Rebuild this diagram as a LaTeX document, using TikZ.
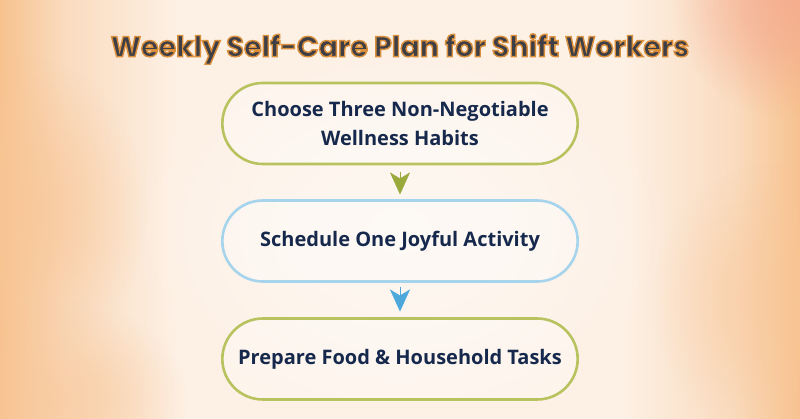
\documentclass[tikz,border=0pt]{standalone}
\usepackage{fontspec}
\setmainfont{Open Sans}
\newfontfamily\titlefont{Poppins}
\usetikzlibrary{arrows.meta,shapes.misc,calc,fadings}
\definecolor{navy}{HTML}{16294C}
\definecolor{titlegray}{HTML}{3E3E47}
\definecolor{olivebd}{HTML}{B8C25E}
\definecolor{bluebd}{HTML}{A6D4EC}
\definecolor{olivetip}{HTML}{9AA93C}
\definecolor{bluetip}{HTML}{4DA9DC}
\definecolor{bgmid}{HTML}{FDF0E4}
\definecolor{bgside2}{HTML}{FADBBE}
\definecolor{bgside}{HTML}{F7C28E}
\definecolor{salmon}{HTML}{F4A98E}
\definecolor{peach}{HTML}{F8C697}
\pgfdeclarehorizontalshading{bgh}{100bp}{color(0bp)=(bgside); color(25bp)=(bgside); color(29bp)=(bgside2); color(36bp)=(bgmid); color(64bp)=(bgmid); color(71bp)=(bgside2); color(75bp)=(bgside); color(100bp)=(bgside)}
\pgfdeclareradialshading{softr}{\pgfpointorigin}{color(0bp)=(pgftransparent!0); color(8bp)=(pgftransparent!25); color(20bp)=(pgftransparent!100); color(50bp)=(pgftransparent!100)}
\pgfdeclarefading{softdisc}{\tikz\shade[shading=softr] (0,0) rectangle (2,2);}
\tikzset{
  pill/.style={rounded rectangle, minimum width=362pt, minimum height=81pt,
    line width=2.6pt, fill=white, fill opacity=0.3, text opacity=1,
    text=navy, align=center, outer sep=0pt,
    font=\bfseries\fontsize{20}{29}\selectfont},
  titlestyle/.style={font=\titlefont\bfseries\fontsize{28.6}{28.6}\selectfont, inner sep=0pt},
  flowtip/.style={line width=0.4pt, -{Stealth[length=22pt, width=20pt, inset=6pt]}},
  glow/.style={path fading=softdisc}
}
\newcommand{\mytitle}{Weekly Self-Care Plan for Shift Workers}
\begin{document}
\begin{tikzpicture}[x=1pt,y=-1pt]
\useasboundingbox (0,0) rectangle (800,419);
% background
\shade[shading=bgh] (0,0) rectangle (800,419);
\fill[salmon, glow, opacity=0.8] (660,-130) rectangle (920,130);
\fill[peach, glow, opacity=0.7] (-120,40) rectangle (160,380);
\fill[peach, glow, opacity=0.6] (-80,290) rectangle (200,510);
\fill[peach, glow, opacity=0.5] (640,150) rectangle (900,450);
\fill[white, glow, opacity=0.5] (100,0) rectangle (700,460);
% title with orange outline (stroked text)
\node[titlestyle, text=titlegray] (title) at (400,49)
  {\special{pdf:literal direct 2 Tr 1.4 w 0.85 0.56 0.23 RG}\mytitle\special{pdf:literal direct 0 Tr}};
% boxes
\node[pill, draw=olivebd] (b1) at (400,123.5) {Choose Three Non-Negotiable\\Wellness Habits};
\node[pill, draw=bluebd] (b2) at (400,241) {Schedule One Joyful Activity};
\node[pill, draw=olivebd] (b3) at (400,359) {Prepare Food \& Household Tasks};
% arrows
\draw[flowtip, olivetip, shorten <=8pt, shorten >=6pt] (b1.south) -- (b2.north);
\draw[flowtip, bluetip, shorten <=6pt, shorten >=7pt] (b2.south) -- (b3.north);
\end{tikzpicture}
\end{document}
